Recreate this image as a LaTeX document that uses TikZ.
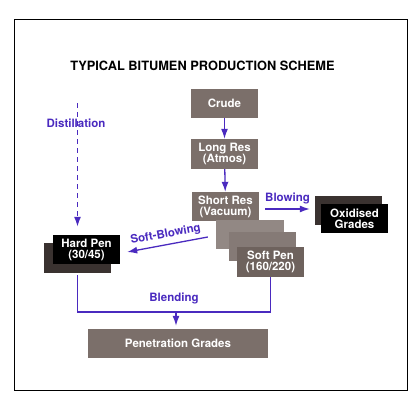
\documentclass[tikz,border=0pt]{standalone}
\usepackage{fontspec}
\usetikzlibrary{arrows.meta}
\setmainfont{TeX Gyre Heros}
\definecolor{flowc}{HTML}{4A2ABF}
\definecolor{resc}{HTML}{7B6F6A}
\definecolor{lightc}{HTML}{928884}
\definecolor{midc}{HTML}{857A76}
\definecolor{softc}{HTML}{6E625D}
\definecolor{backc}{HTML}{3A3230}
\begin{document}
\begin{tikzpicture}[x=1pt,y=-1pt,
    box/.style={fill=resc,text=white,minimum width=67pt,minimum height=29pt,inner sep=0pt,align=center,font=\fontsize{11.5}{11}\selectfont\bfseries},
    flow/.style={draw=flowc,line width=1.3pt,-{Latex[length=10pt,width=7pt]}},
    lab/.style={text=flowc,inner sep=1pt,font=\fontsize{11.5}{12}\selectfont\bfseries}]
    \useasboundingbox (0,0) rectangle (420,410);
    \draw [black,line width=0.8pt] (14,19) rectangle (407,390);
    \node [font=\fontsize{12.8}{13}\selectfont\bfseries] (title) at (202.5,66) {TYPICAL BITUMEN PRODUCTION SCHEME};
    \node [box] (crude) at (224.5,103.5) {Crude};
    \node [box,minimum height=30pt] (longres) at (224.5,154) {Long Res\\(Atmos)};
    \node [box] (shortres) at (225.5,206.5) {Short Res\\(Vacuum)};
    \node [box,fill=lightc,minimum width=68pt] (softa) at (250,234.5) {};
    \node [box,fill=midc] (softb) at (262.5,246.5) {};
    \node [box,fill=softc,minimum height=30pt] (softpen) at (270.5,262) {Soft Pen\\(160/220)};
    \node [box,fill=backc] (oxback) at (348.5,210.5) {};
    \node [box,fill=black] (oxid) at (354.5,218.5) {Oxidised\\Grades};
    \node [box,fill=backc,minimum height=30pt] (hardback) at (77.5,258) {};
    \node [box,fill=black] (hardpen) at (86.5,249.5) {Hard Pen\\(30/45)};
    \node [box,minimum width=180pt] (pengrades) at (178,343.5) {Penetration Grades};
    \coordinate (dist) at (77.5,103);
    \coordinate (blend) at (176,312);
    \draw [flow] (crude) -- (longres);
    \draw [flow] (longres) -- (shortres);
    \draw [flow] ([xshift=6pt,yshift=-2.5pt]shortres.east) -- node [lab,above=3pt] {Blowing} ([xshift=-5pt,yshift=1.5pt]oxback.west);
    \draw [flow] ([xshift=-8pt,yshift=-2.5pt]softa.west) -- node [lab,sloped,above=3pt] {Soft-Blowing} ([xshift=7pt,yshift=-2.5pt]hardpen.east);
    \draw [flow,line width=1.5pt,dash pattern=on 5pt off 4pt] (dist) -- ([yshift=8pt]dist |- hardpen.north);
    \node [lab] (distlab) at (76,123) {Distillation};
    \draw [flowc,line width=1.3pt] ([yshift=-2pt]hardback.south) -- (hardback.south |- blend) -| (softpen.south);
    \draw [flow] (blend) -- ([yshift=3pt]blend |- pengrades.north);
    \node [lab] (blendlab) at (174,298) {Blending};
\end{tikzpicture}
\end{document}
